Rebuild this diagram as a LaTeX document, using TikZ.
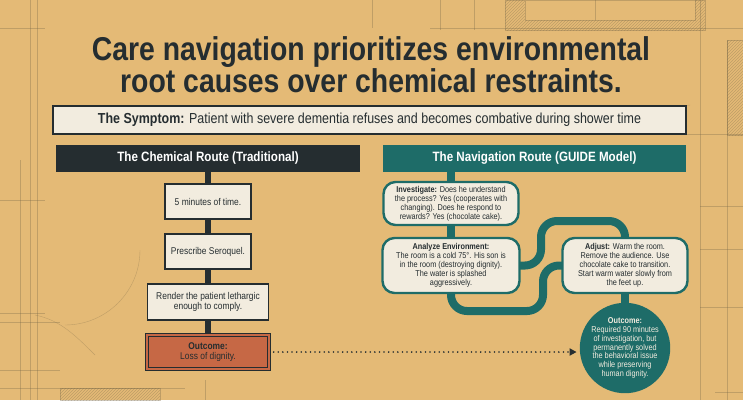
\documentclass[tikz,border=0pt]{standalone}
\usepackage{fontspec}
\setmainfont{Liberation Sans}[FakeStretch=0.86]
\newfontfamily\titlefont{Liberation Sans}[FakeStretch=0.86]
\usetikzlibrary{arrows.meta,patterns}
\definecolor{bgc}{HTML}{E4BA76}
\definecolor{inkc}{HTML}{252D30}
\definecolor{tealc}{HTML}{1E6C68}
\definecolor{creamc}{HTML}{F2ECDF}
\definecolor{rustc}{HTML}{C66845}
\definecolor{sketchc}{HTML}{7A6A4A}
\pgfdeclarelayer{back}
\pgfdeclarelayer{wires}
\pgfsetlayers{back,wires,main}
\begin{document}
\begin{tikzpicture}[x=1pt,y=-1pt,
  sketch/.style={draw=sketchc, line width=0.4pt, opacity=0.35},
  hatchbox/.style={draw=sketchc, line width=0.4pt, opacity=0.35, pattern=north east lines, pattern color=sketchc},
  lbox/.style={draw=inkc, line width=1.6pt, fill=creamc, align=center, inner sep=2pt, font=\fontsize{9.8}{10.5}\selectfont, text=inkc},
  rbox/.style={draw=tealc, line width=2.4pt, fill=creamc, rounded corners=12pt, align=center, inner sep=2pt, font=\fontsize{8.5}{9}\selectfont, text=inkc},
  header/.style={text=white, font=\bfseries\fontsize{13.5}{15}\selectfont, minimum height=27pt, inner sep=0pt},
  lwire/.style={draw=inkc, line width=6pt},
  twire/.style={draw=tealc, line width=8pt, rounded corners=16pt},
]
\useasboundingbox (0,0) rectangle (743,400);
\begin{pgfonlayer}{back}
\fill[bgc] (0,0) rectangle (743,400);
% faint sketch lines
\draw[sketch] (30,0) -- (30,400);
\draw[sketch] (37,0) -- (37,400);
\draw[sketch] (20,160) -- (20,400);
\draw[sketch] (0,28) -- (45,28);
\draw[sketch] (0,200) -- (45,200);
\draw[sketch] (0,313) -- (45,313);
\draw[sketch] (0,322) -- (60,322);
\draw[sketch] (0,370) -- (60,370);
\draw[sketch] (0,388) -- (185,388);
\draw[sketch] (372,0) -- (372,28);
\draw[sketch] (440,0) -- (440,30);
\draw[sketch] (474,0) -- (474,30);
\draw[sketch] (430,28) -- (745,28);
\draw[hatchbox] (505,0) rectangle (705,30);
\fill[bgc] (525,0) rectangle (695,20);
\draw[sketch] (525,0) rectangle (695,20);
\draw[sketch] (595,0) -- (595,20);
\draw[sketch] (700,0) -- (700,400);
\draw[sketch] (727,40) -- (727,400);
\draw[hatchbox] (727,40) rectangle (743,135);
\draw[sketch] (660,134) -- (743,134);
\draw[sketch] (700,206) -- (743,206);
\draw[sketch] (700,249) -- (743,249);
\draw[sketch] (700,307) -- (743,307);
\draw[sketch] (715,392) -- (743,392);
\draw[sketch] (665,130) arc[start angle=180, end angle=270, radius=25];
\draw[sketch] (35,315) .. controls (60,320) and (75,335) .. (95,355);
\draw[sketch] (65,325) arc[start angle=90, end angle=0, radius=75];
\draw[hatchbox] (60,388) rectangle (160,400);
\draw[sketch] (205,380) -- (205,400);
\end{pgfonlayer}

% title
\node[font=\titlefont\bfseries\fontsize{33}{29.5}\selectfont, text=inkc, align=center] (title) at (371,65)
  {Care navigation prioritizes environmental\\root causes over chemical restraints.};

% symptom
\node[draw=inkc, line width=1.6pt, fill=creamc, minimum width=633pt, minimum height=28pt,
  font=\fontsize{14.5}{16}\selectfont, text=inkc] (sym) at (369.5,120)
  {\textbf{The Symptom:} Patient with severe dementia refuses and becomes combative during shower time};

% left column
\node[header, fill=inkc, minimum width=304pt] (lh) at (208,158) {The Chemical Route (Traditional)};
\node[lbox, minimum width=86pt, minimum height=35pt] (lb1) at (208,201.5) {5 minutes of time.};
\node[lbox, minimum width=86pt, minimum height=35pt] (lb2) at (208,251.5) {Prescribe Seroquel.};
\node[lbox, minimum width=121pt, minimum height=36pt] (lb3) at (208,302) {Render the patient lethargic\\enough to comply.};
\node[draw=inkc, line width=1.3pt, double=rustc, double distance=2.2pt, fill=rustc,
  minimum width=122pt, minimum height=34pt, align=center, text=inkc,
  font=\fontsize{9.8}{10.5}\selectfont] (lout) at (208,352) {\textbf{Outcome:}\\Loss of dignity.};

% right column
\node[header, fill=tealc, minimum width=303pt] (rh) at (534.5,158) {The Navigation Route (GUIDE Model)};
\node[rbox, minimum width=135pt, minimum height=43pt] (inv) at (451,203.5)
  {\textbf{Investigate:} Does he understand\\the process? Yes (cooperates with\\changing). Does he respond to\\rewards? Yes (chocolate cake).};
\node[rbox, minimum width=137pt, minimum height=55pt] (ana) at (451,265.5)
  {\textbf{Analyze Environment:}\\The room is a cold 75°. His son is\\in the room (destroying dignity).\\The water is splashed\\aggressively.};
\node[rbox, minimum width=125pt, minimum height=55pt] (adj) at (625,265.5)
  {\textbf{Adjust:} Warm the room.\\Remove the audience. Use\\chocolate cake to transition.\\Start warm water slowly from\\the feet up.};
\node[circle, fill=tealc, minimum size=86pt, inner sep=0pt, align=center, text=creamc,
  font=\fontsize{8.5}{8.8}\selectfont] (circ) at (625,348)
  {\textbf{Outcome:}\\Required 90 minutes\\of investigation, but\\permanently solved\\the behavioral issue\\while preserving\\human dignity.};

\coordinate (uy) at (541,221);
\coordinate (ly) at (543,311);

\begin{pgfonlayer}{wires}
\draw[lwire] (lh.center) -- (lout.center);
\draw[twire] (inv.center |- rh.center) -- (inv.center) -- (ana.center);
\draw[twire] (adj.center) -- (circ.center);
\draw[twire] (ana.center) -- (ana.center -| uy) -- (uy) -- (adj.center |- uy) -- (adj.center);
\draw[twire] (ana.center) -- (ana.center |- ly) -- (ly) -- (ly |- adj.center) -- (adj.center);
\end{pgfonlayer}

\draw[inkc, line width=1.8pt, line cap=round, dash pattern=on 0pt off 4.6pt,
  shorten <=4pt, shorten >=3pt, -{Triangle[length=7pt,width=7pt]}] (lout.east) -- (lout.east -| circ.west);
\end{tikzpicture}
\end{document}
